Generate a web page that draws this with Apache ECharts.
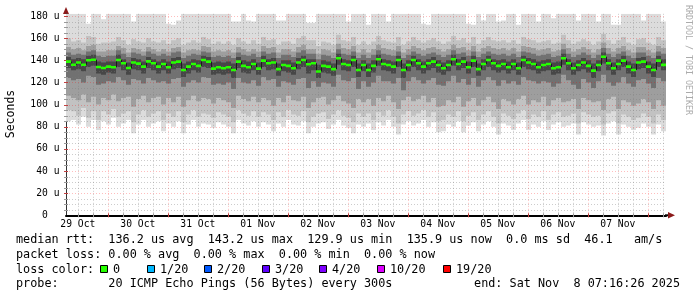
<!DOCTYPE html>
<html><head><meta charset="utf-8">
<script src="https://cdn.jsdelivr.net/npm/echarts@6/dist/echarts.min.js"></script>
<style>html,body{margin:0;padding:0;background:#fff}#c{width:697px;height:297px}</style>
</head><body><div id="c"></div>
<script>
// ---- time layout (hours since graph start, 29 Oct 07:16:26) ----
const STEP_HOURS = 2;
const TOTAL_HOURS = 240;
const FIRST_MIDNIGHT = 16.726;   // 30 Oct 00:00
const FIRST_NOON = 4.726;        // 29 Oct 12:00
const dayLabels = ['29 Oct','30 Oct','31 Oct','01 Nov','02 Nov','03 Nov','04 Nov','05 Nov','06 Nov','07 Nov'];
const yTickValues = [0,20,40,60,80,100,120,140,160,180];

// ---- median RTT (us) per 2h step ----
const median = [
138.8,136.0,138.0,136.0,140.0,140.5,134.0,133.0,134.3,133.7,140.3,137.3,133.0,138.0,137.0,134.3,139.0,137.3,134.3,136.7,133.7,138.0,138.8,131.3,134.3,136.7,135.0,140.3,138.8,132.5,
133.7,132.8,133.7,131.3,138.8,135.0,133.7,136.7,132.5,139.7,137.3,138.0,132.0,135.8,135.0,132.8,138.0,140.3,136.4,137.3,129.9,135.0,134.3,132.0,141.8,136.7,135.8,140.3,131.3,135.8,
131.3,135.0,141.0,136.7,135.8,134.3,140.3,131.3,135.8,140.3,137.3,134.3,137.3,138.8,135.8,132.8,135.8,141.0,136.7,138.8,133.7,139.7,132.0,136.7,140.3,137.3,135.0,136.7,133.7,136.7,
132.8,140.3,138.0,136.7,133.7,135.8,136.7,132.8,133.7,141.8,137.3,132.8,135.8,138.0,135.0,130.7,135.8,143.2,137.3,132.8,136.7,139.7,134.3,131.3,138.0,138.8,134.3,131.3,139.7,135.9];

// ---- smoke: sorted ping levels (us) per step ----
const pingMax = [
182,182,182,182,173,182,182,177,182,182,182,182,182,175,182,182,182,182,182,182,173,172,176,182,182,182,182,182,182,182,
182,182,182,175,175,182,176,175,182,182,182,182,176,176,182,182,182,182,174,174,182,182,182,182,182,182,175,182,182,182,
172,182,182,182,175,182,182,182,182,182,182,173,172,182,182,182,182,182,182,182,173,172,182,176,182,182,175,176,182,182,
172,182,182,182,175,182,182,178,182,182,182,182,176,182,182,182,175,182,182,172,172,182,182,182,182,176,182,182,182,175];
const pingHi2 = [
160,157,158,156,162,161,155,156,156,157,161,158,154,159,157,156,160,157,156,158,155,158,160,154,156,158,156,161,159,155,
157,155,157,154,160,157,155,158,155,161,158,159,154,157,157,155,160,162,158,158,153,157,156,154,163,158,157,161,154,157,
154,157,162,158,157,156,161,154,157,161,158,156,158,160,157,155,157,162,158,160,156,161,155,158,161,158,157,158,156,158,
155,161,159,158,156,157,158,155,156,163,158,155,157,159,157,154,157,164,158,155,158,161,156,154,159,160,156,154,161,158];
const pingHi3 = [
152,150,151,149,153,154,148,148,149,149,153,151,147,151,150,148,152,150,148,150,148,151,152,147,149,150,149,153,152,148,
149,148,149,147,152,150,148,150,148,153,151,152,147,150,150,148,152,154,150,150,146,150,149,147,155,151,150,153,147,150,
147,150,154,151,150,149,153,147,150,153,151,149,151,152,150,148,150,154,151,152,149,153,148,151,153,151,150,151,149,151,
148,153,152,151,149,150,151,148,149,155,151,148,150,152,150,147,150,156,151,148,151,153,149,147,152,152,149,147,153,151];
const pingHi4 = [
147,145,146,145,148,149,144,143,144,144,149,146,143,147,146,144,148,146,144,146,144,147,148,142,144,146,145,148,147,143,
144,143,144,142,147,145,144,146,143,148,146,147,142,145,145,143,147,149,146,146,141,145,144,142,150,146,145,148,142,145,
142,145,149,146,145,144,148,142,145,148,146,144,146,147,145,143,145,149,146,147,144,148,143,146,148,146,145,146,144,146,
143,148,147,146,144,145,146,143,144,150,146,143,145,147,145,142,145,151,146,143,146,148,144,142,147,147,144,142,148,146];
const pingHi5 = [
143,141,142,141,144,145,139,138,139,139,145,141,138,142,141,139,143,141,139,141,139,142,143,137,139,141,140,144,143,138,
139,138,139,137,143,140,139,141,138,144,141,142,137,140,140,138,142,144,141,141,136,140,139,137,146,141,140,144,137,140,
137,140,145,141,140,139,144,137,140,144,141,139,141,143,140,138,140,145,141,143,139,144,137,141,144,141,140,141,139,141,
138,144,142,141,139,140,141,138,139,146,141,138,140,142,140,137,140,147,141,138,141,144,139,137,142,143,139,137,144,141];
const pingLo5 = [
133,131,132,130,134,135,128,127,129,128,134,131,127,132,131,128,133,131,128,131,128,132,133,125,128,131,129,134,133,127,
128,127,128,124,133,129,128,131,127,134,131,132,126,130,129,127,132,134,128,131,124,129,128,126,136,131,130,134,125,130,
125,129,135,131,130,128,134,124,130,134,131,128,131,133,129,127,130,135,131,133,128,134,126,131,134,131,129,131,128,131,
127,134,132,131,128,130,131,127,128,136,131,127,130,132,129,124,130,137,131,127,131,134,128,125,132,133,128,125,134,131];
const pingLo4 = [
124,122,123,120,126,125,118,119,121,120,125,122,118,123,122,119,124,122,120,121,119,123,124,116,120,122,120,125,124,118,
119,118,120,114,124,120,119,122,117,125,122,123,116,121,120,118,123,124,115,121,116,120,119,116,127,122,121,124,114,121,
116,120,126,121,121,119,124,113,121,125,122,119,122,124,118,117,121,126,120,123,118,124,116,122,125,122,117,122,119,121,
118,125,122,121,119,121,120,116,119,127,122,118,114,123,120,115,121,127,120,117,120,125,119,116,122,123,119,115,124,121];
const pingLo3 = [
108,106,104,109,102,107,100,106,104,109,103,106,107,98,105,108,102,106,107,100,106,102,107,98,104,108,103,106,105,101,
106,104,102,97,108,105,103,107,102,106,104,99,106,102,108,104,103,107,97,102,106,107,100,104,108,103,101,97,105,102,
105,99,106,103,108,102,96,104,107,103,105,108,102,106,98,99,104,102,107,98,103,106,99,104,107,102,96,105,103,100,
105,108,100,104,102,107,99,104,106,102,103,105,96,106,104,102,103,95,105,107,96,104,102,99,101,105,102,96,104,99];
const pingLo2 = [
95,94,90,97,88,94,86,94,91,96,89,92,94,84,91,95,89,92,94,86,92,89,94,84,91,95,89,92,91,88,
93,91,89,84,95,92,90,94,89,93,91,86,93,89,95,91,90,94,84,89,92,93,87,91,95,90,88,84,92,89,
92,86,93,90,95,89,83,91,94,90,92,95,89,93,85,86,91,89,94,85,90,93,86,91,94,89,83,92,90,87,
92,95,87,91,89,94,86,91,93,89,90,92,83,93,91,89,90,82,92,94,83,91,89,86,88,92,89,83,91,86];
const pingMin = [
85,86,82,89,80,86,77,85,82,88,80,83,86,74,82,86,80,83,85,76,83,80,85,74,82,86,80,83,82,79,
84,82,80,74,86,83,81,85,80,84,82,76,83,80,86,82,81,85,74,80,83,84,78,82,86,81,79,74,82,80,
83,77,84,81,86,80,73,82,85,81,83,86,80,84,75,76,82,80,85,75,81,84,76,82,85,80,73,83,81,77,
83,86,77,82,80,85,77,82,84,80,81,83,73,84,82,80,81,72,83,85,73,82,80,77,79,83,80,73,82,76];

// ---- legend ----
const lossLabels = ['0','1/20','2/20','3/20','4/20','10/20','19/20'];
const lossColors = ['#26ff00','#00b8ff','#0059ff','#5e00ff','#7e00ff','#dd00ff','#ff0000'];
const lossBoxX = [100,147,204,262,319,377,443];

const Y_MAX = 182;
const MONO = '"DejaVu Sans Mono", monospace';

// tick / grid positions (hours)
const labelHours = dayLabels.map((d, k) => FIRST_NOON + 24 * k);
const gridHours = [];
for (let h = FIRST_NOON; h <= TOTAL_HOURS; h += 6) gridHours.push(h);
const gridValues = [];
for (let v = 5; v <= 180; v += 5) gridValues.push(v);

const chart = echarts.init(document.getElementById('c'), null, {renderer: 'canvas'});

function bandRenderer(color) {
  return function (params, api) {
    const i = api.value(0);
    const p0 = api.coord([i * STEP_HOURS, api.value(2)]);
    const p1 = api.coord([(i + 1) * STEP_HOURS, api.value(1)]);
    const xa = Math.round(p0[0]), xb = Math.round(p1[0]);
    return {type: 'rect', silent: true,
      shape: {x: xa, y: p0[1], width: xb - xa, height: p1[1] - p0[1]},
      style: {fill: color}};
  };
}

const bands = [
  {lo: pingMin, hi: pingMax, color: '#dcdcdc'},
  {lo: pingLo2, hi: pingHi2, color: '#c2c2c2'},
  {lo: pingLo3, hi: pingHi3, color: '#9e9e9e'},
  {lo: pingLo4, hi: pingHi4, color: '#717171'},
  {lo: pingLo5, hi: pingHi5, color: '#474747'}
];

const MAJ = 'rgba(255,0,0,0.26)';
const MIN = 'rgba(120,120,120,0.38)';

function gridRenderer(params, api) {
  const children = [];
  const left = api.coord([0, 0])[0];
  const right = api.coord([TOTAL_HOURS, 0])[0];
  const bottom = api.coord([0, 0])[1];
  const top = api.coord([0, Y_MAX])[1];
  gridValues.forEach(v => {
    const y = Math.round(api.coord([0, v])[1]) + 0.5;
    const major = v % 20 === 0;
    children.push({type: 'line', shape: {x1: left, y1: y, x2: right, y2: y},
      style: {stroke: major ? MAJ : MIN, lineWidth: 1, lineDash: [1, 2]}});
    children.push({type: 'line', shape: {x1: left - 2, y1: y, x2: left + 2, y2: y},
      style: {stroke: major ? '#c04040' : '#999', lineWidth: 1}});
  });
  gridHours.forEach(h => {
    const x = Math.round(api.coord([h, 0])[0]) + 0.5;
    const major = Math.abs(((h - FIRST_MIDNIGHT) % 24 + 24) % 24) < 0.01;
    children.push({type: 'line', shape: {x1: x, y1: top, x2: x, y2: bottom},
      style: {stroke: major ? MAJ : MIN, lineWidth: 1, lineDash: [1, 2]}});
    children.push({type: 'line', shape: {x1: x, y1: bottom - 2, x2: x, y2: bottom + 2},
      style: {stroke: major ? '#c04040' : '#999', lineWidth: 1}});
  });
  return {type: 'group', children: children, silent: true};
}

function medianRenderer(params, api) {
  const i = api.value(0);
  const v = api.value(1), prev = api.value(2);
  const p0 = api.coord([i * STEP_HOURS, v]);
  const p1 = api.coord([(i + 1) * STEP_HOURS, v]);
  const xa = Math.round(p0[0]), xb = Math.round(p1[0]);
  const children = [];
  if (i > 0) {
    const pp = api.coord([i * STEP_HOURS, prev]);
    children.push({type: 'line', shape: {x1: xa + 0.5, y1: pp[1], x2: xa + 0.5, y2: p0[1]},
      style: {stroke: '#1a1a1a', lineWidth: 1}});
  }
  children.push({type: 'rect', shape: {x: xa, y: p0[1] - 1.3, width: xb - xa, height: 2.6},
    style: {fill: '#26ff00'}});
  return {type: 'group', children: children, silent: true};
}

const series = bands.map(b => ({
  type: 'custom', renderItem: bandRenderer(b.color), clip: true, silent: true,
  data: b.lo.map((lo, i) => [i, lo, b.hi[i]]), encode: {x: 0, y: [1, 2]}
}));
series.push({type: 'custom', renderItem: gridRenderer, clip: false, silent: true,
  data: [[0, 0]], encode: {x: 0, y: 1}});
series.push({type: 'custom', renderItem: medianRenderer, clip: true, silent: true,
  data: median.map((v, i) => [i, v, i > 0 ? median[i - 1] : v]), encode: {x: 0, y: 1}});

const textStyle = (x, y, text, extra) => Object.assign({type: 'text', x: x, y: y, silent: true,
  style: {text: text, font: '11.8px ' + MONO, fill: '#000', verticalAlign: 'middle'}}, extra || {});

const graphic = [
  {type: 'polygon', silent: true, shape: {points: [[63, 14], [69, 14], [66, 7]]}, style: {fill: '#8b1a1a'}},
  {type: 'line', silent: true, shape: {x1: 665, y1: 215.3, x2: 669, y2: 215.3}, style: {stroke: '#000', lineWidth: 2}},
  {type: 'polygon', silent: true, shape: {points: [[668, 212], [668, 218.6], [675, 215.3]]}, style: {fill: '#8b1a1a'}},
  {type: 'text', x: 11, y: 114, rotation: Math.PI / 2, silent: true,
    style: {text: 'Seconds', font: '11.5px ' + MONO, fill: '#000', align: 'center', verticalAlign: 'middle'}},
  {type: 'text', x: 688, y: 60, rotation: -Math.PI / 2, silent: true,
    style: {text: 'RRDTOOL / TOBI OETIKER', font: '8.3px ' + MONO, fill: '#ababab', align: 'center', verticalAlign: 'middle'}},
  textStyle(16, 240, 'median rtt:  136.2 us avg  143.2 us max  129.9 us min  135.9 us now  0.0 ms sd  46.1   am/s'),
  textStyle(16, 255, 'packet loss: 0.00 % avg  0.00 % max  0.00 % min  0.00 % now'),
  textStyle(16, 269.5, 'loss color:'),
  textStyle(16, 283.5, 'probe:       20 ICMP Echo Pings (56 Bytes) every 300s'),
  {type: 'text', x: 680, y: 283.5, silent: true,
    style: {text: 'end: Sat Nov  8 07:16:26 2025', font: '11.8px ' + MONO, fill: '#000', align: 'right', verticalAlign: 'middle'}}
];
lossLabels.forEach((lab, k) => {
  graphic.push({type: 'rect', silent: true, shape: {x: lossBoxX[k] + 0.5, y: 265.5, width: 7, height: 7},
    style: {fill: lossColors[k], stroke: '#000', lineWidth: 1}});
  graphic.push(textStyle(lossBoxX[k] + 13, 269.5, lab));
});

chart.setOption({
  animation: false,
  backgroundColor: '#fff',
  grid: {left: 66, right: 31, top: 13.8, bottom: 81.7, containLabel: false},
  xAxis: {
    type: 'value', min: 0, max: TOTAL_HOURS,
    axisLine: {show: true, lineStyle: {color: '#000', width: 2}},
    axisTick: {show: false}, splitLine: {show: false},
    axisLabel: {
      customValues: labelHours,
      formatter: function (v) {
        for (let k = 0; k < labelHours.length; k++) if (Math.abs(labelHours[k] - v) < 0.01) return dayLabels[k];
        return '';
      },
      fontFamily: MONO, fontSize: 9.7, color: '#000', margin: 4
    }
  },
  yAxis: {
    type: 'value', min: 0, max: Y_MAX, interval: 20,
    axisLine: {show: true, lineStyle: {color: '#333', width: 1}},
    axisTick: {show: false}, splitLine: {show: false},
    axisLabel: {
      showMaxLabel: false,
      formatter: function (v) {
        if (yTickValues.indexOf(v) < 0) return '';
        return v === 0 ? '0  ' : v + ' u';
      },
      fontFamily: MONO, fontSize: 9.7, color: '#000', margin: 6.5
    }
  },
  series: series,
  graphic: graphic
});
</script></body></html>
